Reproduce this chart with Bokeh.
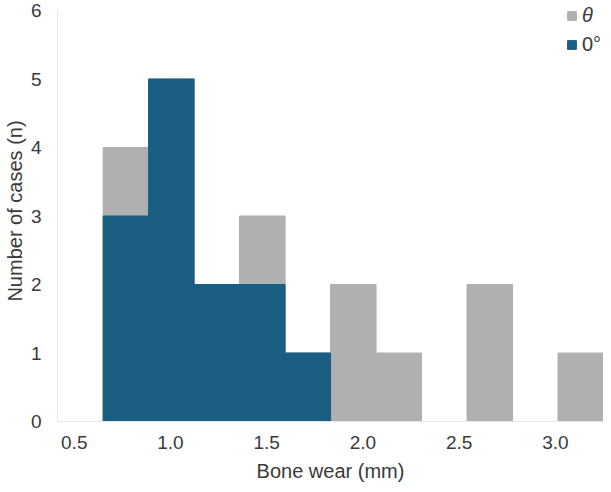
from bokeh.plotting import figure
from bokeh.models import FixedTicker, Legend, LegendItem, Range1d, NumeralTickFormatter
from bokeh.embed import file_html
from bokeh.resources import INLINE

# ---- data ----
bin_min = 0.65
bin_max = 3.25
n_bins = 11
theta_counts = [4, 5, 2, 3, 1, 2, 1, 0, 2, 0, 1]
zero_counts = [3, 5, 2, 2, 1, 0, 0, 0, 0, 0, 0]
x_ticks = [0.5, 1.0, 1.5, 2.0, 2.5, 3.0]
y_ticks = [0, 1, 2, 3, 4, 5, 6]
series_labels = ["θ", "0°"]
x_title = "Bone wear (mm)"
y_title = "Number of cases (n)"

GRAY = "#b0b0b0"
BLUE = "#1a5e82"
FONT = "Liberation Sans"
TXT = "#3a3a3a"

width = (bin_max - bin_min) / n_bins
lefts = [bin_min + i * width for i in range(n_bins)]
rights = [l + width for l in lefts]

p = figure(width=603, height=484, output_backend="svg", toolbar_location=None,
           x_range=Range1d(0.413, bin_max), y_range=Range1d(0, 6.146),
           min_border_left=53, min_border_right=0, min_border_top=0, min_border_bottom=62)
p.outline_line_color = None
p.xgrid.visible = False
p.ygrid.visible = False

r_theta = p.quad(left=lefts, right=rights, bottom=0, top=theta_counts,
                 fill_color=GRAY, line_color=GRAY, line_width=1)
r_zero = p.quad(left=lefts, right=rights, bottom=0, top=zero_counts,
                fill_color=BLUE, line_color=BLUE, line_width=1)

for ax in (p.xaxis[0], p.yaxis[0]):
    ax.axis_line_color = "#e6e6e6"
    ax.axis_line_width = 1
    ax.major_tick_line_color = None
    ax.minor_tick_line_color = None
    ax.major_tick_out = 0
    ax.major_tick_in = 0
    ax.major_label_text_font = FONT
    ax.major_label_text_font_size = "19px"
    ax.major_label_text_color = TXT
    ax.axis_label_text_font = FONT
    ax.axis_label_text_font_size = "20px"
    ax.axis_label_text_font_style = "normal"
    ax.axis_label_text_color = TXT

p.xaxis.ticker = FixedTicker(ticks=x_ticks)
p.xaxis.formatter = NumeralTickFormatter(format="0.0")
p.yaxis.ticker = FixedTicker(ticks=y_ticks)
p.yaxis.bounds = (y_ticks[0], y_ticks[-1])
p.xaxis.axis_label = x_title
p.yaxis.axis_label = y_title
p.xaxis.major_label_standoff = 14
p.xaxis.axis_label_standoff = 8
p.yaxis.major_label_standoff = 16
p.yaxis.axis_label_standoff = 2

def make_legend(label, renderer, loc, style):
    lg = Legend(items=[LegendItem(label=label, renderers=[renderer])],
                location=loc, padding=0, margin=0, spacing=0,
                glyph_width=11, glyph_height=11, label_standoff=5,
                label_height=20, label_text_font=FONT, label_text_font_size="20px",
                label_text_font_style=style, label_text_color=TXT,
                border_line_color=None, background_fill_alpha=0)
    p.add_layout(lg, "center")

make_legend(series_labels[0], r_theta, (509, 394), "italic")
make_legend(series_labels[1], r_zero, (509, 365), "normal")

open("out.html", "w").write(file_html(p, INLINE))
